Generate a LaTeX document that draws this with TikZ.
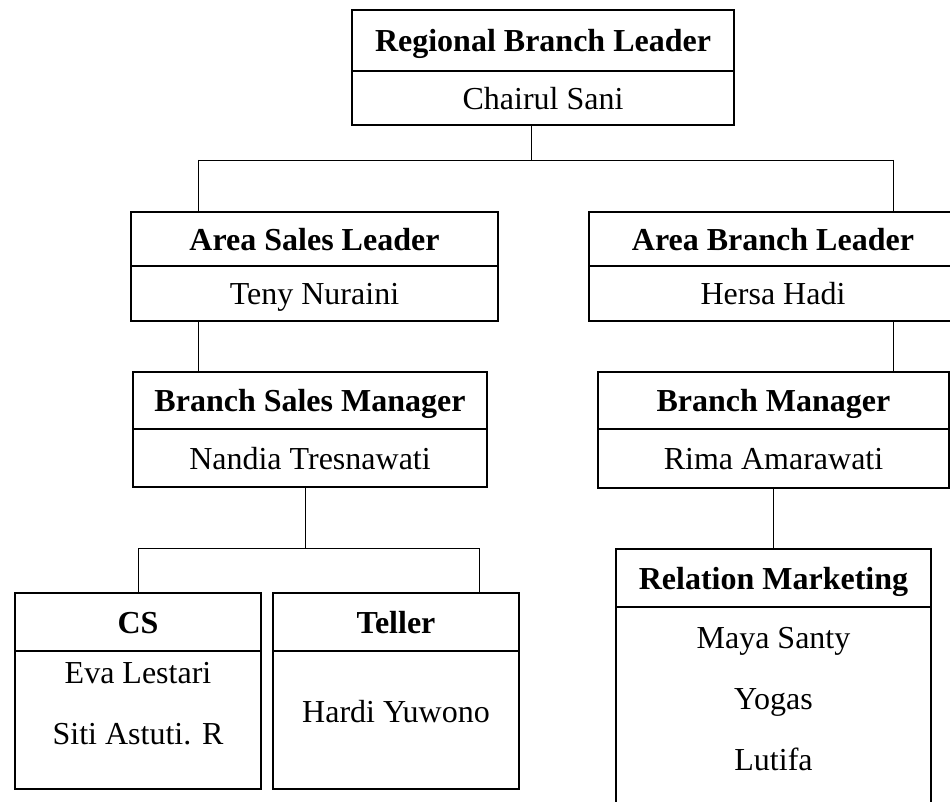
\documentclass[tikz,border=0pt]{standalone}
\usepackage{fontspec}
\setmainfont{Liberation Serif}
\usetikzlibrary{positioning}

\begin{document}
\begin{tikzpicture}[x=0.75pt,y=-0.75pt,
	head/.style={draw,line width=1.3pt,inner sep=0pt,outer sep=0pt,text height=17pt,text depth=0pt,font=\fontsize{24}{28}\selectfont\bfseries},
	body/.style={draw,line width=1.3pt,inner sep=0pt,outer sep=0pt,text height=17pt,text depth=0pt,font=\fontsize{24}{28}\selectfont},
	names/.style={align=center,inner sep=0pt,font=\fontsize{24}{45.75}\selectfont},
	link/.style={line width=0.6pt}]
	
	\useasboundingbox (0,0) rectangle (950,802);
	
	% regional
	\node[head,minimum width=286.5pt,minimum height=45.75pt] (rbl) at (543,40.5) {Regional Branch Leader};
	\node[body,minimum width=286.5pt,minimum height=40.5pt] (rblb) [below=0pt of rbl] {Chairul Sani};
	
	% area
	\node[head,minimum width=275.25pt,minimum height=40.5pt] (asl) at (314.5,239) {Area Sales Leader};
	\node[body,minimum width=275.25pt,minimum height=41.25pt] (aslb) [below=0pt of asl] {Teny Nuraini};
	\node[head,minimum width=276pt,minimum height=40.5pt] (abl) at (773,239) {Area Branch Leader};
	\node[body,minimum width=276pt,minimum height=41.25pt] (ablb) [below=0pt of abl] {Hersa Hadi};
	
	% branch
	\node[head,minimum width=265.5pt,minimum height=42.75pt] (bsm) at (310,400.5) {Branch Sales Manager};
	\node[body,minimum width=265.5pt,minimum height=43.5pt] (bsmb) [below=0pt of bsm] {Nandia Tresnawati};
	\node[head,minimum width=263.25pt,minimum height=42.75pt] (bm) at (773.5,400.5) {Branch Manager};
	\node[body,minimum width=263.25pt,minimum height=44.25pt] (bmb) [below=0pt of bm] {Rima Amarawati};
	
	% staff
	\node[head,minimum width=184.5pt,minimum height=43.5pt] (cs) at (138,622) {CS};
	\node[body,minimum width=184.5pt,minimum height=103.5pt] (csb) [below=0pt of cs] {};
	\node[names,below=8.25pt of csb.north] (csnames) {Eva Lestari\\Siti Astuti. R};
	
	\node[head,minimum width=184.5pt,minimum height=43.5pt] (tel) at (396,622) {Teller};
	\node[body,minimum width=184.5pt,minimum height=103.5pt] (telb) [below=0pt of tel] {};
	\node[names,below=36.75pt of telb.north] (telnames) {Hardi Yuwono};
	
	\node[head,minimum width=236.25pt,minimum height=43.5pt] (rm) at (773.5,578) {Relation Marketing};
	\node[body,minimum width=236.25pt,minimum height=174.75pt] (rmb) [below=0pt of rm] {};
	\node[names,below=15.4pt of rmb.north] (rmnames) {Maya Santy\\Yogas\\Lutifa};
	
	% lines
	\coordinate (busL) at (198,160);
	\coordinate (busM) at (531,160);
	\coordinate (busR) at (893,160);
	\draw[link] (rblb.south -| busM) -- (busM);
	\draw[link] (busL) -- (busR);
	\draw[link] (busL) -- (busL |- asl.north);
	\draw[link] (busR) -- (busR |- abl.north);
	\draw[link] (aslb.south -| busL) -- (busL |- bsm.north);
	\draw[link] (ablb.south -| busR) -- (busR |- bm.north);
	
	\coordinate (subL) at (138,548);
	\coordinate (subM) at (305,548);
	\coordinate (subR) at (479,548);
	\draw[link] (bsmb.south -| subM) -- (subM);
	\draw[link] (subL) -- (subR);
	\draw[link] (subL) -- (subL |- cs.north);
	\draw[link] (subR) -- (subR |- tel.north);
	\draw[link] (bmb.south) -- (rm.north);
	
\end{tikzpicture}
\end{document}
